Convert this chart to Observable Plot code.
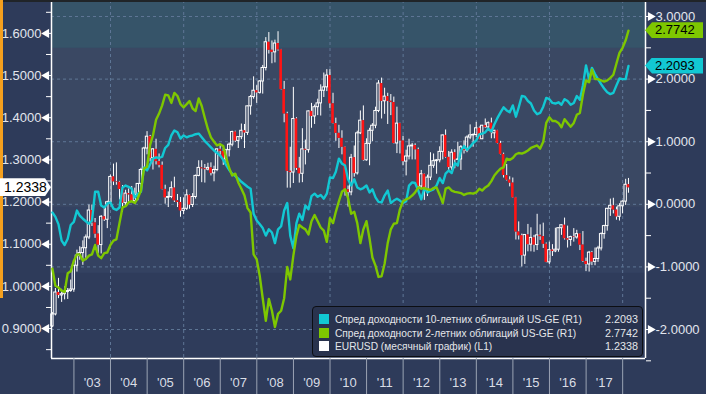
<!DOCTYPE html>
<html><head><meta charset="utf-8">
<script src="https://cdn.jsdelivr.net/npm/d3@7"></script>
<script src="https://cdn.jsdelivr.net/npm/@observablehq/plot@0.6"></script>
<style>
html,body{margin:0;padding:0;background:#2e3b5a;}
#chart{position:relative;width:706px;height:394px;overflow:hidden;background:#2e3b5a;font-family:"Liberation Sans",Arial,sans-serif;}
#chart svg{position:absolute;left:0;top:0;}
.lbl{position:absolute;font-size:13px;line-height:16px;height:16px;color:#000;box-sizing:border-box;}
#legend{position:absolute;left:312px;top:306px;width:331px;height:51px;box-sizing:border-box;background:#29334e;border:1px solid #0c0e13;border-radius:4px;color:#e4e6ea;font-size:10.2px;}
#legend .row{position:absolute;left:6px;right:4px;height:13px;line-height:13px;white-space:nowrap;}
#legend .sw{display:inline-block;width:10px;height:10px;vertical-align:-1px;margin-right:6px;}
#legend .val{position:absolute;right:0;top:0;font-size:10.8px;}
</style></head><body><div id="chart"></div><script>
// ---- data (monthly, May 2002 .. Feb 2018) ----
const firstYear = 2002, firstMonth = 4; // May 2002 (0-based month)
const eurOpen = [
 0.9050,0.9335,0.9855,0.9785,0.9815,0.9865,0.9890,0.9925,
 1.0490,1.0730,1.0790,1.0905,1.1160,1.1800,1.1505,1.1240,1.0980,1.1650,1.1580,1.1995,
 1.2595,1.2480,1.2470,1.2300,1.1975,1.2200,1.2170,1.2020,1.2170,1.2430,1.2760,1.3270,
 1.3550,1.3040,1.3250,1.2960,1.2870,1.2300,1.2100,1.2120,1.2330,1.2030,1.1990,1.1790,
 1.1840,1.2160,1.1930,1.2120,1.2620,1.2810,1.2790,1.2770,1.2810,1.2680,1.2760,1.3250,
 1.3200,1.3010,1.3230,1.3360,1.3660,1.3450,1.3540,1.3690,1.3640,1.4270,1.4490,1.4640,
 1.4590,1.4860,1.5180,1.5790,1.5600,1.5550,1.5760,1.5610,1.4670,1.4090,1.2730,1.2700,
 1.3970,1.2800,1.2670,1.3250,1.3230,1.4150,1.4030,1.4250,1.4340,1.4640,1.4720,1.5000,
 1.4330,1.3860,1.3630,1.3510,1.3300,1.2290,1.2230,1.3050,1.2680,1.3630,1.3930,1.2990,
 1.3380,1.3690,1.3810,1.4160,1.4810,1.4390,1.4500,1.4390,1.4360,1.3390,1.3860,1.3450,
 1.2960,1.3080,1.3320,1.3340,1.3240,1.2370,1.2660,1.2300,1.2580,1.2860,1.2970,1.2990,
 1.3190,1.3580,1.3060,1.2820,1.3170,1.3000,1.3010,1.3300,1.3220,1.3530,1.3580,1.3590,
 1.3750,1.3490,1.3810,1.3770,1.3870,1.3630,1.3690,1.3390,1.3130,1.2630,1.2520,1.2450,
 1.2100,1.1290,1.1200,1.0730,1.1220,1.0990,1.1150,1.0980,1.1210,1.1180,1.1000,1.0570,
 1.0860,1.0830,1.0870,1.1380,1.1450,1.1130,1.1100,1.1170,1.1160,1.1240,1.0980,1.0590,
 1.0520,1.0800,1.0580,1.0650,1.0900,1.1240,1.1430,1.1840,1.1910,1.1810,1.1650,1.1900,
 1.2010,1.2410];
const eurHigh = [
 0.9380,0.9950,1.0190,0.9930,0.9990,0.9950,1.0150,1.0500,
 1.0860,1.0940,1.1080,1.1220,1.1930,1.1930,1.1610,1.1440,1.1680,1.1840,1.2020,1.2640,
 1.2900,1.2930,1.2490,1.2390,1.2280,1.2310,1.2370,1.2330,1.2440,1.2800,1.3300,1.3670,
 1.3580,1.3270,1.3490,1.3140,1.2950,1.2400,1.2240,1.2480,1.2590,1.2180,1.2110,1.2100,
 1.2290,1.2170,1.2200,1.2640,1.2980,1.2980,1.2890,1.2920,1.2930,1.2850,1.3260,1.3370,
 1.3270,1.3250,1.3400,1.3680,1.3680,1.3550,1.3850,1.3840,1.4280,1.4530,1.4970,1.4760,
 1.4880,1.5240,1.5900,1.6020,1.5820,1.5840,1.6040,1.5620,1.4860,1.4130,1.3300,1.4720,
 1.4000,1.3060,1.3740,1.3470,1.4160,1.4340,1.4300,1.4440,1.4780,1.5060,1.5140,1.5140,
 1.4580,1.3990,1.3820,1.3690,1.3310,1.2380,1.3130,1.3330,1.3680,1.4160,1.4280,1.3500,
 1.3750,1.3860,1.4250,1.4880,1.4940,1.4700,1.4580,1.4550,1.4490,1.4250,1.3870,1.3560,
 1.3230,1.3490,1.3390,1.3380,1.3280,1.2750,1.2670,1.2640,1.3170,1.3140,1.3010,1.3310,
 1.3590,1.3710,1.3200,1.3240,1.3240,1.3420,1.3340,1.3450,1.3570,1.3830,1.3620,1.3890,
 1.3780,1.3820,1.3970,1.3900,1.3990,1.3700,1.3700,1.3440,1.3160,1.2890,1.2600,1.2570,
 1.2110,1.1530,1.1240,1.1230,1.1470,1.1390,1.1210,1.1710,1.1460,1.1500,1.1030,1.1050,
 1.0990,1.1380,1.1390,1.1460,1.1620,1.1430,1.1190,1.1370,1.1330,1.1250,1.1300,1.0670,
 1.0830,1.0830,1.0910,1.0950,1.1270,1.1450,1.1850,1.2070,1.2090,1.1880,1.1960,1.2030,
 1.2540,1.2560];
const eurLow = [
 0.9030,0.9300,0.9710,0.9620,0.9680,0.9690,0.9860,0.9860,
 1.0340,1.0620,1.0500,1.0610,1.1110,1.1420,1.1140,1.0770,1.0770,1.1540,1.1370,1.1960,
 1.2390,1.2400,1.2050,1.1760,1.1900,1.1980,1.2000,1.1950,1.2030,1.2270,1.2710,1.3120,
 1.2950,1.2760,1.2880,1.2810,1.2290,1.1950,1.1870,1.2080,1.1990,1.1870,1.1640,1.1700,
 1.1800,1.1830,1.1870,1.2070,1.2600,1.2460,1.2450,1.2740,1.2620,1.2480,1.2720,1.3080,
 1.2870,1.2930,1.3070,1.3310,1.3410,1.3270,1.3480,1.3270,1.3580,1.4060,1.4440,1.4340,
 1.4560,1.4560,1.5110,1.5510,1.5280,1.5300,1.5580,1.4660,1.3880,1.2330,1.2330,1.2440,
 1.2750,1.2450,1.2460,1.2880,1.3160,1.3750,1.3840,1.4050,1.4040,1.4480,1.4620,1.4220,
 1.3850,1.3440,1.3270,1.3120,1.2140,1.1880,1.2150,1.2590,1.2640,1.3600,1.2970,1.2970,
 1.2860,1.3430,1.3740,1.4120,1.3970,1.4080,1.3840,1.4050,1.3380,1.3150,1.3140,1.2860,
 1.2620,1.3000,1.3000,1.3000,1.2340,1.2290,1.2040,1.2130,1.2510,1.2800,1.2660,1.2930,
 1.3000,1.3040,1.2750,1.2750,1.2790,1.2990,1.2750,1.3140,1.3170,1.3480,1.3300,1.3530,
 1.3480,1.3480,1.3750,1.3680,1.3500,1.3500,1.3380,1.3120,1.2570,1.2500,1.2360,1.2090,
 1.1100,1.1100,1.0460,1.0520,1.0820,1.0820,1.0810,1.0850,1.1090,1.0900,1.0560,1.0520,
 1.0710,1.0800,1.0810,1.1210,1.1100,1.0910,1.0950,1.1050,1.1120,1.0850,1.0570,1.0350,
 1.0340,1.0490,1.0490,1.0570,1.0840,1.1120,1.1310,1.1660,1.1720,1.1570,1.1550,1.1720,
 1.1920,1.2210];
const eurClose = [
 0.9335,0.9855,0.9785,0.9815,0.9865,0.9890,0.9925,1.0490,
 1.0730,1.0790,1.0905,1.1160,1.1800,1.1505,1.1240,1.0980,1.1650,1.1580,1.1995,1.2595,
 1.2480,1.2470,1.2300,1.1975,1.2200,1.2170,1.2020,1.2170,1.2430,1.2760,1.3270,1.3550,
 1.3040,1.3250,1.2960,1.2870,1.2300,1.2100,1.2120,1.2330,1.2030,1.1990,1.1790,1.1840,
 1.2160,1.1930,1.2120,1.2620,1.2810,1.2790,1.2770,1.2810,1.2680,1.2760,1.3250,1.3200,
 1.3010,1.3230,1.3360,1.3660,1.3450,1.3540,1.3690,1.3640,1.4270,1.4490,1.4640,1.4590,
 1.4860,1.5180,1.5790,1.5600,1.5550,1.5760,1.5610,1.4670,1.4090,1.2730,1.2700,1.3970,
 1.2800,1.2670,1.3250,1.3230,1.4150,1.4030,1.4250,1.4340,1.4640,1.4720,1.5000,1.4330,
 1.3860,1.3630,1.3510,1.3300,1.2290,1.2230,1.3050,1.2680,1.3630,1.3930,1.2990,1.3380,
 1.3690,1.3810,1.4160,1.4810,1.4390,1.4500,1.4390,1.4360,1.3390,1.3860,1.3450,1.2960,
 1.3080,1.3320,1.3340,1.3240,1.2370,1.2660,1.2300,1.2580,1.2860,1.2970,1.2990,1.3190,
 1.3580,1.3060,1.2820,1.3170,1.3000,1.3010,1.3300,1.3220,1.3530,1.3580,1.3590,1.3750,
 1.3490,1.3810,1.3770,1.3870,1.3630,1.3690,1.3390,1.3130,1.2630,1.2520,1.2450,1.2100,
 1.1290,1.1200,1.0730,1.1220,1.0990,1.1150,1.0980,1.1210,1.1180,1.1000,1.0570,1.0860,
 1.0830,1.0870,1.1380,1.1450,1.1130,1.1100,1.1170,1.1160,1.1240,1.0980,1.0590,1.0520,
 1.0800,1.0580,1.0650,1.0900,1.1240,1.1430,1.1840,1.1910,1.1810,1.1650,1.1900,1.2010,
 1.2410,1.2338];
const spread10y = [
 -0.13,-0.20,-0.32,-0.58,-0.65,-0.55,-0.33,-0.28,
 -0.10,-0.18,-0.23,-0.27,-0.31,-0.26,0.20,0.20,-0.02,-0.05,0.01,0.03,
 -0.07,-0.09,-0.05,0.27,0.30,0.28,0.25,0.11,0.17,0.20,0.59,0.54,
 0.64,0.73,0.75,0.74,0.76,0.90,0.95,1.10,1.18,1.15,1.05,1.10,
 1.07,1.09,1.10,1.12,1.13,1.07,1.01,0.96,0.91,0.86,0.82,0.78,
 0.71,0.63,0.55,0.49,0.45,0.41,0.36,0.32,0.28,0.25,-0.15,-0.26,
 -0.32,-0.38,-0.50,-0.40,-0.45,-0.62,-0.40,-0.35,-0.10,0.02,-0.50,-0.70,
 -0.30,-0.15,-0.25,-0.02,-0.08,0.13,0.17,0.12,0.15,0.09,0.17,0.43,
 0.42,0.52,0.73,0.65,0.62,0.40,0.30,0.40,0.27,0.24,0.26,0.30,
 0.19,0.24,0.11,0.04,0.03,0.14,0.22,0.02,0.06,0.09,0.06,0.02,
 0.05,0.30,0.35,0.34,0.22,0.08,0.26,0.19,0.22,0.24,0.30,0.42,
 0.34,0.49,0.54,0.50,0.66,0.62,0.86,0.93,0.87,0.92,0.98,1.02,
 1.12,1.13,1.15,1.21,1.16,1.28,1.38,1.47,1.55,1.50,1.47,1.58,
 1.40,1.55,1.73,1.72,1.65,1.61,1.50,1.44,1.46,1.56,1.70,1.68,
 1.62,1.61,1.63,1.59,1.68,1.65,1.59,1.62,1.73,1.67,1.90,2.22,
 1.99,2.18,2.08,2.00,1.92,1.85,1.79,1.76,1.78,1.90,2.01,2.00,
 2.00,2.2093];
const spread2y = [
 -1.03,-1.30,-1.33,-1.38,-1.40,-1.10,-1.07,-0.90,
 -0.80,-0.80,-0.90,-0.87,-0.82,-0.80,-0.65,-0.82,-0.86,-0.78,-0.77,-0.65,
 -0.58,-0.56,-0.30,-0.05,-0.03,0.03,0.05,0.02,0.10,0.22,0.57,0.60,
 0.95,1.10,1.35,1.45,1.58,1.75,1.74,1.62,1.78,1.73,1.60,1.55,
 1.60,1.65,1.53,1.49,1.69,1.57,1.38,1.20,1.07,1.00,0.94,0.96,
 0.93,0.75,0.58,0.46,0.49,0.35,0.25,0.14,-0.06,-0.13,-0.80,-0.88,
 -1.15,-1.50,-1.86,-1.51,-1.70,-1.96,-1.75,-1.70,-1.50,-1.00,-1.20,-0.82,
 -0.50,-0.33,-0.37,-0.40,-0.48,-0.27,-0.17,-0.27,-0.37,-0.42,-0.60,-0.22,
 -0.30,-0.12,0.05,0.20,0.24,0.10,-0.15,-0.12,-0.30,-0.62,-0.40,-0.27,
 -0.55,-0.85,-0.98,-1.16,-1.15,-0.95,-0.62,-0.40,-0.31,-0.30,-0.08,0.05,
 0.08,0.10,0.14,0.19,0.27,0.25,0.26,0.24,0.23,0.26,0.27,0.15,
 0.02,0.25,0.27,0.22,0.20,0.19,0.18,0.15,0.17,0.18,0.17,0.19,
 0.25,0.22,0.27,0.30,0.37,0.46,0.52,0.57,0.59,0.73,0.71,0.74,
 0.80,0.82,0.81,0.83,0.86,0.90,0.92,0.94,0.89,1.00,1.30,1.39,
 1.33,1.33,1.30,1.23,1.36,1.30,1.24,1.30,1.43,1.46,1.75,1.98,
 1.95,2.15,2.00,2.00,1.98,1.96,1.98,2.02,2.07,2.25,2.42,2.50,
 2.62,2.7742];
const leftTicks = [0.9,1.0,1.1,1.2,1.3,1.4,1.5,1.6];
const leftMinor = [0.85,0.95,1.05,1.15,1.25,1.35,1.45,1.55,1.65];
const rightTicks = [-2,-1,0,1,2,3];
const rightMinor = [-2.5,-1.5,-0.5,0.5,1.5,2.5];
const yearLabels = ["'03","'04","'05","'06","'07","'08","'09","'10","'11","'12","'13","'14","'15","'16","'17"];
const legendItems = [
 {name:"Спред доходности 10-летних облигаций US-GE (R1)", value:"2.2093", color:"#12c8d3"},
 {name:"Спред доходности 2-летних облигаций US-GE (R1)", value:"2.7742", color:"#7ec700"},
 {name:"EURUSD (месячный график) (L1)", value:"1.2338", color:"#ffffff"}
];
// background shading bands (in right-axis units)
const bands = [
 {top:3.256, bottom:2.49, color:"#365469"},
 {top:2.49, bottom:-0.05, color:"#3a4863"},
 {top:-0.05, bottom:-1.105, color:"#344261"},
 {top:-1.105, bottom:-2.463, color:"#2f3c5b"}
];

// ---- build ----
const monthDate = i => new Date(Date.UTC(firstYear, firstMonth + i + 1, 0));
const candles = eurClose.map((c,i)=>({date:monthDate(i), open:eurOpen[i], high:eurHigh[i], low:eurLow[i], close:c}));
const s10 = spread10y.map((v,i)=>({date:monthDate(i), v}));
const s2 = spread2y.map((v,i)=>({date:monthDate(i), v}));
const xDomain = [new Date(Date.UTC(2002,4,22)), new Date(Date.UTC(2018,7,17))];
const eurDomain = [0.829, 1.678];
const spreadDomain = [-2.463, 3.256];
const yearStarts = d3.range(2003, 2019).map(y=>new Date(Date.UTC(y,0,1)));
const yearMids = yearLabels.map((l,i)=>new Date(Date.UTC(2003+i,6,2)));
const gridYears = d3.range(2004, 2019, 2).map(y=>new Date(Date.UTC(y,0,1)));
const shift = (d,days)=>new Date(+d + days*864e5);

const common = {width:706, height:394, marginLeft:51, marginRight:61, marginTop:0, marginBottom:36,
  style:{background:"transparent", overflow:"visible", fontFamily:"Liberation Sans, Arial, sans-serif", fontSize:"13px"}};

const layerBg = Plot.plot({...common,
  x:{type:"utc", domain:xDomain, axis:null},
  y:{domain:spreadDomain},
  marks:[
    Plot.rect(bands, {x1:()=>xDomain[0], x2:()=>xDomain[1], y1:"top", y2:"bottom", fill:"color"}),
    Plot.ruleY(rightTicks, {stroke:"#5f7696", strokeDasharray:"3,3", strokeWidth:1}),
    Plot.ruleX(gridYears, {stroke:"#5f7696", strokeDasharray:"3,3", strokeWidth:1}),
    Plot.ruleX([xDomain[1]], {stroke:"white", strokeWidth:1.5}),
    Plot.axisY(rightTicks, {anchor:"right", tickSize:7, tickPadding:3, tickFormat:d=>d.toFixed(4), stroke:"white", fill:"#e2e6ee", fontSize:13}),
    Plot.axisY(rightMinor, {anchor:"right", tickSize:5, tickFormat:()=>"", stroke:"white"}),
    Plot.dot(rightTicks, {y:d=>d, frameAnchor:"right", dx:5, symbol:"triangle", rotate:90, r:3.4, fill:"white", stroke:null})
  ]});

const layerEur = Plot.plot({...common,
  x:{type:"utc", domain:xDomain},
  y:{domain:eurDomain},
  marks:[
    Plot.ruleX(candles, {x:"date", y1:"high", y2:d=>Math.max(d.open,d.close), stroke:"white", strokeWidth:1}),
    Plot.ruleX(candles, {x:"date", y1:d=>Math.min(d.open,d.close), y2:"low", stroke:"white", strokeWidth:1}),
    Plot.rect(candles.filter(d=>d.close>=d.open), {x1:d=>shift(d.date,-12), x2:d=>shift(d.date,12), y1:"open", y2:"close", fill:"none", stroke:"white", strokeWidth:1}),
    Plot.rect(candles.filter(d=>d.close<d.open), {x1:d=>shift(d.date,-13), x2:d=>shift(d.date,13), y1:"open", y2:"close", fill:"#ff1414"}),
    Plot.ruleX([xDomain[0]], {stroke:"white", strokeWidth:1.5}),
    Plot.ruleY([eurDomain[0]], {stroke:"white", strokeWidth:1.5}),
    Plot.axisY(leftTicks, {anchor:"left", tickSize:7, tickPadding:3, tickFormat:d=>d.toFixed(4), stroke:"white", fill:"#e2e6ee", fontSize:13}),
    Plot.axisY(leftMinor, {anchor:"left", tickSize:5, tickFormat:()=>"", stroke:"white"}),
    Plot.dot(leftTicks, {y:d=>d, frameAnchor:"left", dx:-5, symbol:"triangle", rotate:-90, r:3.4, fill:"white", stroke:null}),
    Plot.axisX(yearStarts, {anchor:"bottom", tickSize:36, tickFormat:()=>"", stroke:"#9aa3b3"}),
    Plot.axisX(yearMids, {anchor:"bottom", tickSize:0, tickPadding:19, tickFormat:(d,i)=>yearLabels[i], fill:"#d9dde5", fontSize:13})
  ]});

const layerLines = Plot.plot({...common,
  x:{type:"utc", domain:xDomain, axis:null},
  y:{domain:spreadDomain, axis:null},
  marks:[
    Plot.line(s10, {x:"date", y:"v", stroke:"#12c8d3", strokeWidth:2.4, strokeLinejoin:"round"}),
    Plot.line(s2, {x:"date", y:"v", stroke:"#7ec700", strokeWidth:2.4, strokeLinejoin:"round"})
  ]});

const chart = document.getElementById("chart");
chart.append(layerBg, layerEur, layerLines);

// decorations
const topStrip = document.createElement("div");
topStrip.style.cssText = "position:absolute;left:0;top:0;width:706px;height:2px;background:#202428;";
chart.append(topStrip);
const orangeBar = document.createElement("div");
orangeBar.style.cssText = "position:absolute;left:0;top:0;width:3px;height:298px;background:#f5a01e;";
chart.append(orangeBar);

// value labels placed with the plots' scales
const ySp = layerLines.scale("y"), yEu = layerEur.scale("y");
function rightLabel(v, text, color){
  const d = document.createElement("div");
  d.className = "lbl";
  d.textContent = text;
  const yy = ySp.apply(v);
  d.style.cssText += `left:645px;top:${yy-8}px;width:58px;background:${color};padding-left:10px;clip-path:polygon(0 50%,7px 0,100% 0,100% 100%,7px 100%);`;
  chart.append(d);
}
rightLabel(spread2y[spread2y.length-1], legendItems[1].value, "#7ec700");
rightLabel(spread10y[spread10y.length-1], legendItems[0].value, "#12c8d3");
{
  const d = document.createElement("div");
  d.className = "lbl";
  d.textContent = legendItems[2].value;
  const yy = yEu.apply(eurClose[eurClose.length-1]);
  d.style.cssText += `left:0;top:${yy-9}px;height:18px;line-height:18px;width:51px;font-size:14px;background:#fff;padding-left:4px;clip-path:polygon(0 0,calc(100% - 6px) 0,100% 50%,calc(100% - 6px) 100%,0 100%);`;
  chart.append(d);
}

// legend
const lg = document.createElement("div");
lg.id = "legend";
legendItems.forEach((it,i)=>{
  const r = document.createElement("div");
  r.className = "row";
  r.style.top = (6 + i*13.5) + "px";
  r.innerHTML = `<span class="sw" style="background:${it.color}"></span>${it.name}<span class="val">${it.value}</span>`;
  lg.append(r);
});
chart.append(lg);
</script></body></html>
